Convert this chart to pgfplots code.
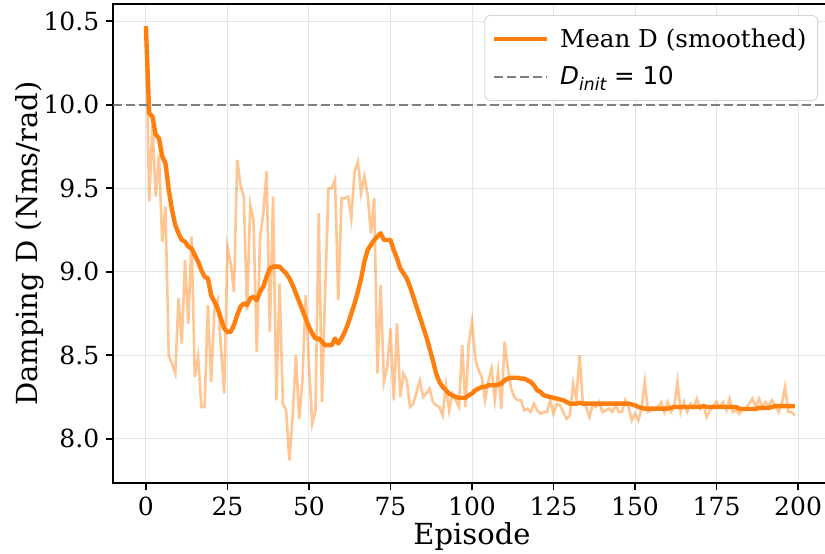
\documentclass[border=0pt]{standalone}
\usepackage{fontspec}
\setmainfont{DejaVu Serif}
\newfontfamily\dvsans{DejaVu Sans}
\usepackage{pgfplots}
\pgfplotsset{compat=1.18}
\definecolor{taborange}{HTML}{FF7F0E}

\begin{document}
\begin{tikzpicture}
\begin{axis}[
    at={(0,0)}, anchor=south west,
    scale only axis, width=358.7pt, height=239.65pt,
    xmin=-10, xmax=210, ymin=7.733, ymax=10.603,
    xtick={0,25,...,200}, ytick={8,8.5,...,10.5},
    /pgf/number format/assume math mode=true,
    yticklabel style={/pgf/number format/.cd, fixed, fixed zerofill, precision=1},
    tick label style={font=\fontsize{12.5}{14}\selectfont},
    label style={font=\fontsize{14.5}{17}\selectfont},
    xlabel={Episode}, ylabel={Damping D (Nms/rad)},
    xlabel style={at={(axis description cs:0.5,-0.112)}, anchor=center},
    ylabel style={at={(axis description cs:-0.1161,0.5)}, anchor=center},
    grid=major, grid style={gray!20, line width=0.5pt},
    axis line style={line width=0.9pt},
    tick align=outside, tick pos=left, major tick length=3.5pt,
    tick style={black, line width=0.8pt},
    legend cell align=left,
    legend image code/.code={\draw[#1] (0pt,0pt) -- (26.5pt,0pt);},
    legend style={at={(rel axis cs:0.9823,0.977)}, anchor=north east,
        draw=gray!35, rounded corners=2.5pt, fill=white,
        font=\fontsize{12.3}{14}\selectfont, inner xsep=3.5pt, inner ysep=4.5pt,
        row sep=4pt, /tikz/every odd column/.append style={column sep=3.5pt}},
]
% raw per-episode damping
\addplot[taborange, opacity=0.45, line width=1.3pt, forget plot] coordinates {
(0,10.47) (1,9.42) (2,9.88) (3,9.45) (4,9.70) (5,9.18) (6,9.39) (7,8.50) (8,8.45) (9,8.39)
(10,8.84) (11,8.57) (12,9.07) (13,8.69) (14,9.21) (15,8.37) (16,8.49) (17,8.19) (18,8.19) (19,8.80)
(20,8.34) (21,8.77) (22,8.83) (23,8.55) (24,8.27) (25,9.15) (26,9.05) (27,8.88) (28,9.67) (29,9.52)
(30,9.45) (31,8.77) (32,9.40) (33,9.31) (34,8.52) (35,9.20) (36,9.35) (37,9.60) (38,8.64) (39,9.45)
(40,8.23) (41,8.93) (42,8.21) (43,8.17) (44,7.87) (45,8.13) (46,8.50) (47,8.12) (48,8.35) (49,8.86)
(50,8.45) (51,8.09) (52,8.17) (53,9.35) (54,8.22) (55,8.90) (56,9.50) (57,9.50) (58,9.55) (59,8.83)
(60,9.44) (61,9.44) (62,9.45) (63,9.32) (64,9.60) (65,9.66) (66,9.47) (67,9.57) (68,9.46) (69,9.23)
(70,9.44) (71,8.39) (72,8.92) (73,8.34) (74,8.43) (75,8.66) (76,8.23) (77,8.69) (78,8.25) (79,8.39)
(80,8.35) (81,8.19) (82,8.21) (83,8.28) (84,8.35) (85,8.25) (86,8.27) (87,8.30) (88,8.22) (89,8.20)
(90,8.19) (91,8.14) (92,8.32) (93,8.17) (94,8.27) (95,8.23) (96,8.19) (97,8.56) (98,8.19) (99,8.57)
(100,8.70) (101,8.48) (102,8.41) (103,8.37) (104,8.23) (105,8.34) (106,8.42) (107,8.23) (108,8.40) (109,8.18)
(110,8.58) (111,8.42) (112,8.30) (113,8.25) (114,8.23) (115,8.23) (116,8.17) (117,8.18) (118,8.16) (119,8.21)
(120,8.17) (121,8.15) (122,8.16) (123,8.16) (124,8.23) (125,8.15) (126,8.21) (127,8.20) (128,8.16) (129,8.12)
(130,8.14) (131,8.33) (132,8.24) (133,8.50) (134,8.21) (135,8.19) (136,8.13) (137,8.20) (138,8.19) (139,8.22)
(140,8.16) (141,8.17) (142,8.18) (143,8.16) (144,8.20) (145,8.16) (146,8.16) (147,8.23) (148,8.19) (149,8.11)
(150,8.15) (151,8.11) (152,8.18) (153,8.34) (154,8.16) (155,8.17) (156,8.18) (157,8.19) (158,8.22) (159,8.16)
(160,8.22) (161,8.16) (162,8.19) (163,8.34) (164,8.16) (165,8.22) (166,8.16) (167,8.21) (168,8.19) (169,8.24)
(170,8.18) (171,8.20) (172,8.13) (173,8.17) (174,8.20) (175,8.22) (176,8.19) (177,8.22) (178,8.17) (179,8.24)
(180,8.16) (181,8.17) (182,8.15) (183,8.18) (184,8.18) (185,8.21) (186,8.24) (187,8.19) (188,8.24) (189,8.19)
(190,8.22) (191,8.20) (192,8.23) (193,8.20) (194,8.16) (195,8.21) (196,8.31) (197,8.16) (198,8.16) (199,8.14)
};
% smoothed mean
\addplot[taborange, line width=2.2pt, line join=round] coordinates {
(0,10.47) (1,9.95) (2,9.93) (3,9.82) (4,9.80) (5,9.69) (6,9.65) (7,9.49) (8,9.37) (9,9.28)
(10,9.23) (11,9.19) (12,9.18) (13,9.15) (14,9.14) (15,9.10) (16,9.06) (17,9.01) (18,8.97) (19,8.96)
(20,8.86) (21,8.82) (22,8.78) (23,8.72) (24,8.66) (25,8.64) (26,8.64) (27,8.68) (28,8.74) (29,8.79)
(30,8.81) (31,8.80) (32,8.84) (33,8.85) (34,8.83) (35,8.88) (36,8.91) (37,8.97) (38,9.02) (39,9.03)
(40,9.03) (41,9.03) (42,9.01) (43,8.99) (44,8.96) (45,8.92) (46,8.87) (47,8.82) (48,8.77) (49,8.72)
(50,8.67) (51,8.63) (52,8.60) (53,8.60) (54,8.58) (55,8.56) (56,8.56) (57,8.56) (58,8.60) (59,8.57)
(60,8.60) (61,8.64) (62,8.69) (63,8.75) (64,8.81) (65,8.88) (66,8.96) (67,9.06) (68,9.13) (69,9.16)
(70,9.19) (71,9.21) (72,9.23) (73,9.19) (74,9.19) (75,9.19) (76,9.13) (77,9.08) (78,9.02) (79,8.99)
(80,8.96) (81,8.91) (82,8.85) (83,8.79) (84,8.73) (85,8.67) (86,8.61) (87,8.54) (88,8.47) (89,8.39)
(90,8.34) (91,8.31) (92,8.29) (93,8.27) (94,8.26) (95,8.25) (96,8.245) (97,8.245) (98,8.245) (99,8.26)
(100,8.27) (101,8.29) (102,8.30) (103,8.31) (104,8.31) (105,8.32) (106,8.32) (107,8.32) (108,8.325) (109,8.33)
(110,8.35) (111,8.36) (112,8.365) (113,8.365) (114,8.365) (115,8.36) (116,8.36) (117,8.35) (118,8.34) (119,8.32)
(120,8.29) (121,8.28) (122,8.26) (123,8.255) (124,8.25) (125,8.245) (126,8.24) (127,8.235) (128,8.23) (129,8.22)
(130,8.21) (131,8.21) (132,8.21) (133,8.215) (134,8.21) (135,8.21) (136,8.21) (137,8.21) (138,8.21) (139,8.21)
(140,8.21) (141,8.21) (142,8.21) (143,8.21) (144,8.21) (145,8.21) (146,8.21) (147,8.21) (148,8.21) (149,8.205)
(150,8.20) (151,8.19) (152,8.185) (153,8.18) (154,8.18) (155,8.18) (156,8.18) (157,8.18) (158,8.18) (159,8.18)
(160,8.18) (161,8.185) (162,8.19) (163,8.19) (164,8.19) (165,8.19) (166,8.19) (167,8.19) (168,8.19) (169,8.19)
(170,8.19) (171,8.195) (172,8.19) (173,8.19) (174,8.19) (175,8.19) (176,8.19) (177,8.19) (178,8.19) (179,8.19)
(180,8.19) (181,8.19) (182,8.18) (183,8.178) (184,8.178) (185,8.178) (186,8.178) (187,8.178) (188,8.185) (189,8.185)
(190,8.185) (191,8.185) (192,8.19) (193,8.195) (194,8.195) (195,8.195) (196,8.195) (197,8.195) (198,8.195) (199,8.195)
};
\addlegendentry{Mean D (smoothed)}
\addplot[black!50, line width=1.1pt, dash pattern=on 4.5pt off 2pt] coordinates {(-10,10) (210,10)};
\addlegendentry{{\dvsans\itshape D\raisebox{-0.45ex}{\fontsize{8.6}{9}\selectfont init}\upshape{} = 10}}
\end{axis}
\pgfresetboundingbox
\useasboundingbox (-56.65pt,-34.85pt) rectangle (355.85pt,241.65pt);
\end{tikzpicture}
\end{document}
